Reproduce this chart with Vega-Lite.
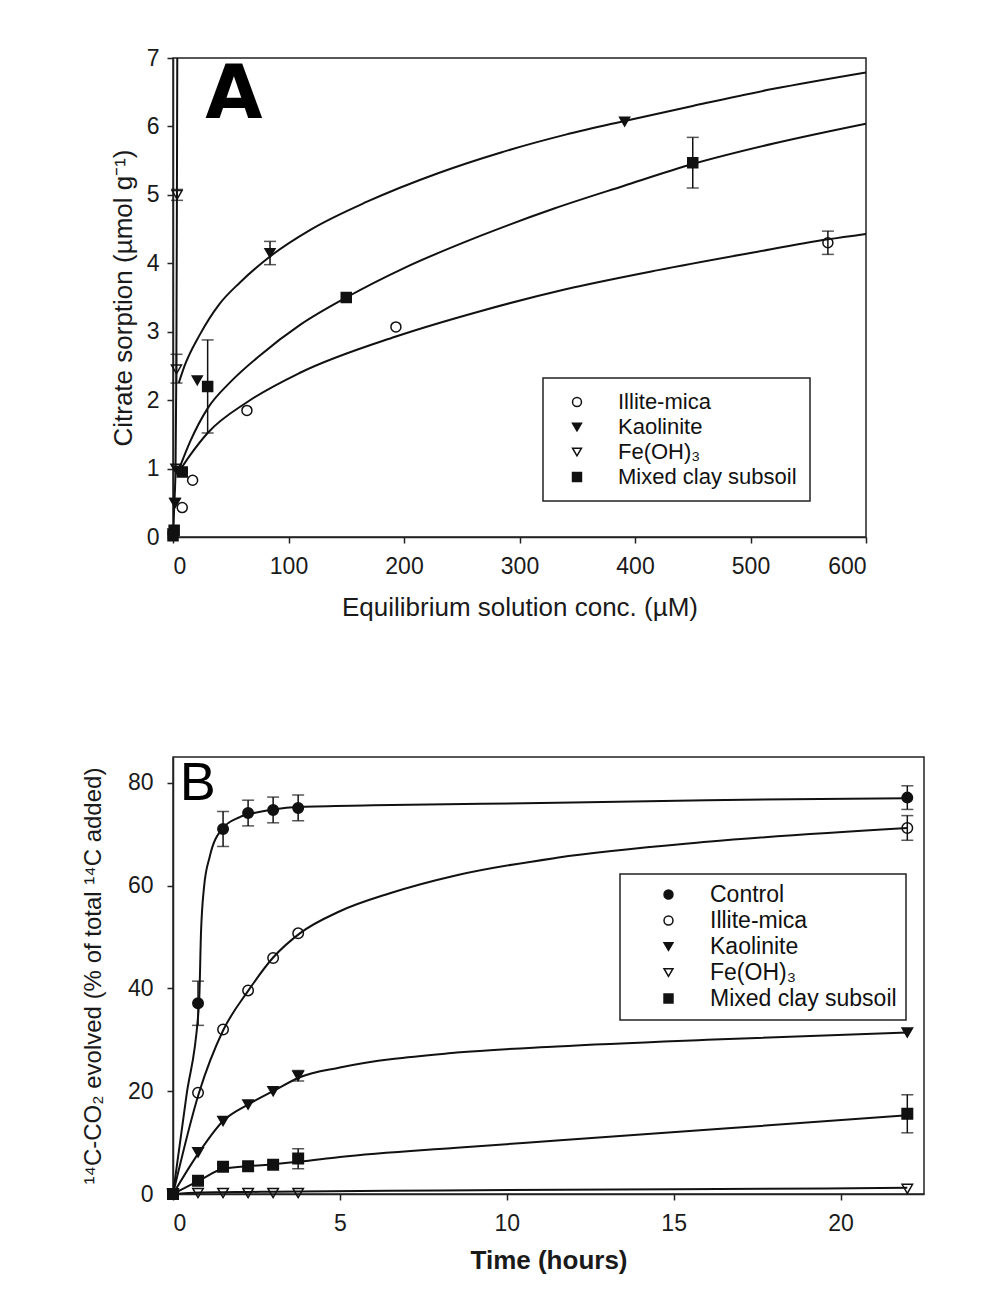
{
  "$schema": "https://vega.github.io/schema/vega-lite/v6.json",
  "background": "white",
  "padding": {"left": 80, "top": 46, "right": 5, "bottom": 5},
  "spacing": 134,
  "datasets": {
    "a_pts": [
      {"mineral": "Illite-mica", "x": 0, "y": 0.05},
      {"mineral": "Illite-mica", "x": 8, "y": 0.43},
      {"mineral": "Illite-mica", "x": 17, "y": 0.83},
      {"mineral": "Illite-mica", "x": 64, "y": 1.85},
      {"mineral": "Illite-mica", "x": 193, "y": 3.07},
      {"mineral": "Illite-mica", "x": 567, "y": 4.3, "lo": 4.13, "hi": 4.47},
      {"mineral": "Kaolinite", "x": 0, "y": 0.05},
      {"mineral": "Kaolinite", "x": 2, "y": 0.5},
      {"mineral": "Kaolinite", "x": 4, "y": 0.97},
      {"mineral": "Kaolinite", "x": 21, "y": 2.29},
      {"mineral": "Kaolinite", "x": 84, "y": 4.15, "lo": 3.98, "hi": 4.32},
      {"mineral": "Kaolinite", "x": 391, "y": 6.07},
      {"mineral": "Fe(OH)₃", "x": 0.5, "y": 0.05},
      {"mineral": "Fe(OH)₃", "x": 1.5, "y": 0.5},
      {"mineral": "Fe(OH)₃", "x": 2.5, "y": 1.0},
      {"mineral": "Fe(OH)₃", "x": 3, "y": 2.45, "lo": 2.25, "hi": 2.67},
      {"mineral": "Fe(OH)₃", "x": 3.5, "y": 5.0, "lo": 4.92, "hi": 5.08},
      {"mineral": "Mixed clay subsoil", "x": 0, "y": 0.02},
      {"mineral": "Mixed clay subsoil", "x": 1, "y": 0.1},
      {"mineral": "Mixed clay subsoil", "x": 8, "y": 0.95},
      {"mineral": "Mixed clay subsoil", "x": 30, "y": 2.2, "lo": 1.52, "hi": 2.88},
      {"mineral": "Mixed clay subsoil", "x": 150, "y": 3.5},
      {"mineral": "Mixed clay subsoil", "x": 450, "y": 5.47, "lo": 5.1, "hi": 5.84}
    ],
    "a_curves": [
      {"mineral": "Kaolinite", "x": 5, "y": 2.25},
      {"mineral": "Kaolinite", "x": 10, "y": 2.5},
      {"mineral": "Kaolinite", "x": 23, "y": 2.95},
      {"mineral": "Kaolinite", "x": 40, "y": 3.4},
      {"mineral": "Kaolinite", "x": 58, "y": 3.72},
      {"mineral": "Kaolinite", "x": 84, "y": 4.1},
      {"mineral": "Kaolinite", "x": 120, "y": 4.5},
      {"mineral": "Kaolinite", "x": 168, "y": 4.9},
      {"mineral": "Kaolinite", "x": 230, "y": 5.32},
      {"mineral": "Kaolinite", "x": 284, "y": 5.62},
      {"mineral": "Kaolinite", "x": 340, "y": 5.88},
      {"mineral": "Kaolinite", "x": 391, "y": 6.08},
      {"mineral": "Kaolinite", "x": 450, "y": 6.3},
      {"mineral": "Kaolinite", "x": 520, "y": 6.55},
      {"mineral": "Kaolinite", "x": 600, "y": 6.79},
      {"mineral": "Mixed clay subsoil", "x": 5, "y": 0.98},
      {"mineral": "Mixed clay subsoil", "x": 15, "y": 1.4},
      {"mineral": "Mixed clay subsoil", "x": 30, "y": 1.88},
      {"mineral": "Mixed clay subsoil", "x": 50, "y": 2.27},
      {"mineral": "Mixed clay subsoil", "x": 75, "y": 2.65},
      {"mineral": "Mixed clay subsoil", "x": 110, "y": 3.1},
      {"mineral": "Mixed clay subsoil", "x": 150, "y": 3.5},
      {"mineral": "Mixed clay subsoil", "x": 200, "y": 3.93},
      {"mineral": "Mixed clay subsoil", "x": 266, "y": 4.4},
      {"mineral": "Mixed clay subsoil", "x": 330, "y": 4.8},
      {"mineral": "Mixed clay subsoil", "x": 390, "y": 5.13},
      {"mineral": "Mixed clay subsoil", "x": 450, "y": 5.45},
      {"mineral": "Mixed clay subsoil", "x": 520, "y": 5.75},
      {"mineral": "Mixed clay subsoil", "x": 600, "y": 6.04},
      {"mineral": "Illite-mica", "x": 5, "y": 0.95},
      {"mineral": "Illite-mica", "x": 15, "y": 1.2},
      {"mineral": "Illite-mica", "x": 30, "y": 1.52},
      {"mineral": "Illite-mica", "x": 65, "y": 1.98},
      {"mineral": "Illite-mica", "x": 110, "y": 2.4},
      {"mineral": "Illite-mica", "x": 193, "y": 2.93},
      {"mineral": "Illite-mica", "x": 266, "y": 3.3},
      {"mineral": "Illite-mica", "x": 340, "y": 3.62},
      {"mineral": "Illite-mica", "x": 420, "y": 3.9},
      {"mineral": "Illite-mica", "x": 500, "y": 4.15},
      {"mineral": "Illite-mica", "x": 567, "y": 4.35},
      {"mineral": "Illite-mica", "x": 600, "y": 4.43},
      {"mineral": "Fe(OH)₃", "x": 0, "y": 0},
      {"mineral": "Fe(OH)₃", "x": 1.2, "y": 0.5},
      {"mineral": "Fe(OH)₃", "x": 2.2, "y": 1.0},
      {"mineral": "Fe(OH)₃", "x": 2.9, "y": 2.45},
      {"mineral": "Fe(OH)₃", "x": 3.4, "y": 5.0},
      {"mineral": "Fe(OH)₃", "x": 3.7, "y": 7.0}
    ],
    "b_pts": [
      {"mineral": "Control", "x": 0, "y": 0},
      {"mineral": "Control", "x": 0.75, "y": 37.1, "lo": 32.8, "hi": 41.4},
      {"mineral": "Control", "x": 1.5, "y": 71.0, "lo": 67.6, "hi": 74.4},
      {"mineral": "Control", "x": 2.25, "y": 74.1, "lo": 71.6, "hi": 76.6},
      {"mineral": "Control", "x": 3.0, "y": 74.7, "lo": 72.2, "hi": 77.2},
      {"mineral": "Control", "x": 3.75, "y": 75.1, "lo": 72.6, "hi": 77.6},
      {"mineral": "Control", "x": 22, "y": 77.1, "lo": 74.8, "hi": 79.4},
      {"mineral": "Illite-mica", "x": 0, "y": 0},
      {"mineral": "Illite-mica", "x": 0.75, "y": 19.7},
      {"mineral": "Illite-mica", "x": 1.5, "y": 32.0},
      {"mineral": "Illite-mica", "x": 2.25, "y": 39.6},
      {"mineral": "Illite-mica", "x": 3.0, "y": 45.9},
      {"mineral": "Illite-mica", "x": 3.75, "y": 50.7},
      {"mineral": "Illite-mica", "x": 22, "y": 71.2, "lo": 68.8, "hi": 73.6},
      {"mineral": "Kaolinite", "x": 0, "y": 0},
      {"mineral": "Kaolinite", "x": 0.75, "y": 8.1},
      {"mineral": "Kaolinite", "x": 1.5, "y": 14.2},
      {"mineral": "Kaolinite", "x": 2.25, "y": 17.4},
      {"mineral": "Kaolinite", "x": 3.0, "y": 20.0},
      {"mineral": "Kaolinite", "x": 3.75, "y": 23.0, "lo": 22.0, "hi": 24.0},
      {"mineral": "Kaolinite", "x": 22, "y": 31.4},
      {"mineral": "Fe(OH)₃", "x": 0, "y": 0},
      {"mineral": "Fe(OH)₃", "x": 0.75, "y": 0.2},
      {"mineral": "Fe(OH)₃", "x": 1.5, "y": 0.2},
      {"mineral": "Fe(OH)₃", "x": 2.25, "y": 0.2},
      {"mineral": "Fe(OH)₃", "x": 3.0, "y": 0.2},
      {"mineral": "Fe(OH)₃", "x": 3.75, "y": 0.2},
      {"mineral": "Fe(OH)₃", "x": 22, "y": 1.0},
      {"mineral": "Mixed clay subsoil", "x": 0, "y": 0},
      {"mineral": "Mixed clay subsoil", "x": 0.75, "y": 2.6},
      {"mineral": "Mixed clay subsoil", "x": 1.5, "y": 5.3},
      {"mineral": "Mixed clay subsoil", "x": 2.25, "y": 5.4},
      {"mineral": "Mixed clay subsoil", "x": 3.0, "y": 5.7},
      {"mineral": "Mixed clay subsoil", "x": 3.75, "y": 6.9, "lo": 4.9, "hi": 8.8},
      {"mineral": "Mixed clay subsoil", "x": 22, "y": 15.6, "lo": 11.9, "hi": 19.3}
    ],
    "b_curves": [
      {"mineral": "Control", "x": 0, "y": 0},
      {"mineral": "Control", "x": 0.4, "y": 19},
      {"mineral": "Control", "x": 0.78, "y": 37},
      {"mineral": "Control", "x": 0.84, "y": 51},
      {"mineral": "Control", "x": 0.93, "y": 59.7},
      {"mineral": "Control", "x": 1.1, "y": 65.6},
      {"mineral": "Control", "x": 1.47, "y": 71},
      {"mineral": "Control", "x": 2.0, "y": 73.3},
      {"mineral": "Control", "x": 2.5, "y": 74.2},
      {"mineral": "Control", "x": 3.0, "y": 74.8},
      {"mineral": "Control", "x": 3.8, "y": 75.3},
      {"mineral": "Control", "x": 6, "y": 75.6},
      {"mineral": "Control", "x": 11.5, "y": 76.1},
      {"mineral": "Control", "x": 16, "y": 76.6},
      {"mineral": "Control", "x": 22, "y": 77.0},
      {"mineral": "Illite-mica", "x": 0, "y": 0},
      {"mineral": "Illite-mica", "x": 0.78, "y": 19.7},
      {"mineral": "Illite-mica", "x": 1.5, "y": 31.8},
      {"mineral": "Illite-mica", "x": 2.25, "y": 39.5},
      {"mineral": "Illite-mica", "x": 3.0, "y": 46},
      {"mineral": "Illite-mica", "x": 3.8, "y": 50.7},
      {"mineral": "Illite-mica", "x": 5, "y": 55},
      {"mineral": "Illite-mica", "x": 6.5, "y": 58.5},
      {"mineral": "Illite-mica", "x": 8.5, "y": 62},
      {"mineral": "Illite-mica", "x": 11.5, "y": 65.4},
      {"mineral": "Illite-mica", "x": 16, "y": 68.5},
      {"mineral": "Illite-mica", "x": 22, "y": 71.2},
      {"mineral": "Kaolinite", "x": 0, "y": 0},
      {"mineral": "Kaolinite", "x": 0.78, "y": 8.1},
      {"mineral": "Kaolinite", "x": 1.5, "y": 14.2},
      {"mineral": "Kaolinite", "x": 2.25, "y": 17.4},
      {"mineral": "Kaolinite", "x": 3.0, "y": 20},
      {"mineral": "Kaolinite", "x": 3.8, "y": 22.7},
      {"mineral": "Kaolinite", "x": 5, "y": 24.6},
      {"mineral": "Kaolinite", "x": 8.5, "y": 27.5},
      {"mineral": "Kaolinite", "x": 11.5, "y": 28.7},
      {"mineral": "Kaolinite", "x": 16, "y": 30},
      {"mineral": "Kaolinite", "x": 22, "y": 31.4},
      {"mineral": "Mixed clay subsoil", "x": 0, "y": 0},
      {"mineral": "Mixed clay subsoil", "x": 0.78, "y": 2.6},
      {"mineral": "Mixed clay subsoil", "x": 1.5, "y": 4.9},
      {"mineral": "Mixed clay subsoil", "x": 2.25, "y": 5.4},
      {"mineral": "Mixed clay subsoil", "x": 3.0, "y": 5.8},
      {"mineral": "Mixed clay subsoil", "x": 3.8, "y": 6.3},
      {"mineral": "Mixed clay subsoil", "x": 5, "y": 7.2},
      {"mineral": "Mixed clay subsoil", "x": 8.5, "y": 9.0},
      {"mineral": "Mixed clay subsoil", "x": 11.5, "y": 10.4},
      {"mineral": "Mixed clay subsoil", "x": 16, "y": 12.5},
      {"mineral": "Mixed clay subsoil", "x": 22, "y": 15.3},
      {"mineral": "Fe(OH)₃", "x": 0, "y": 0},
      {"mineral": "Fe(OH)₃", "x": 0.78, "y": 0.3},
      {"mineral": "Fe(OH)₃", "x": 1.5, "y": 0.35},
      {"mineral": "Fe(OH)₃", "x": 2.25, "y": 0.4},
      {"mineral": "Fe(OH)₃", "x": 3.0, "y": 0.45},
      {"mineral": "Fe(OH)₃", "x": 3.8, "y": 0.5},
      {"mineral": "Fe(OH)₃", "x": 8, "y": 0.7},
      {"mineral": "Fe(OH)₃", "x": 15, "y": 0.9},
      {"mineral": "Fe(OH)₃", "x": 22, "y": 1.2}
    ]
  },
  "vconcat": [
    {
      "width": 693,
      "height": 479,
      "encoding": {
        "x": {"field": "x", "type": "quantitative", "scale": {"domain": [0, 600], "nice": false},
          "axis": {"title": "Equilibrium solution conc. (µM)", "values": [0, 100, 200, 300, 400, 500, 600], "labelFontSize": 23, "titleFontSize": 26, "labelPadding": 12, "titlePadding": 16}},
        "y": {"field": "y", "type": "quantitative", "scale": {"domain": [0, 7], "nice": false},
          "axis": {"title": "Citrate sorption (µmol g⁻¹)", "values": [0, 1, 2, 3, 4, 5, 6, 7], "labelFontSize": 23, "titleFontSize": 26, "labelPadding": 8, "titlePadding": 10}}
      },
      "layer": [
        {
          "data": {"name": "a_curves"},
          "mark": {"type": "line", "interpolate": "monotone", "color": "#111", "strokeWidth": 2, "clip": true},
          "encoding": {"detail": {"field": "mineral", "type": "nominal"}}
        },
        {
          "data": {"name": "a_pts"},
          "transform": [{"filter": "datum.lo != null"}],
          "mark": {"type": "rule", "color": "#111", "strokeWidth": 1.5},
          "encoding": {"y": {"field": "lo", "type": "quantitative"}, "y2": {"field": "hi"}}
        },
        {
          "data": {"name": "a_pts"},
          "transform": [{"filter": "datum.lo != null"}],
          "mark": {"type": "tick", "orient": "horizontal", "color": "#111", "size": 12, "thickness": 1.5},
          "encoding": {"y": {"field": "hi", "type": "quantitative"}}
        },
        {
          "data": {"name": "a_pts"},
          "transform": [{"filter": "datum.lo != null"}],
          "mark": {"type": "tick", "orient": "horizontal", "color": "#111", "size": 12, "thickness": 1.5},
          "encoding": {"y": {"field": "lo", "type": "quantitative"}}
        },
        {
          "data": {"name": "a_pts"},
          "mark": {"type": "point", "filled": true, "strokeWidth": 1.5, "size": 100, "opacity": 1, "fillOpacity": 1, "strokeOpacity": 1},
          "encoding": {
            "shape": {"field": "mineral", "type": "nominal",
              "scale": {"domain": ["Illite-mica", "Kaolinite", "Fe(OH)₃", "Mixed clay subsoil"], "range": ["circle", "triangle-down", "triangle-down", "square"]},
              "legend": {"title": null, "orient": "none", "legendX": 370, "legendY": 320, "labelFontSize": 22, "labelLimit": 400, "padding": 13, "symbolOffset": 10, "labelOffset": 30, "rowPadding": 3, "symbolSize": 80, "symbolStrokeWidth": 1.5}},
            "fill": {"field": "mineral", "type": "nominal",
              "scale": {"domain": ["Illite-mica", "Kaolinite", "Fe(OH)₃", "Mixed clay subsoil"], "range": ["transparent", "#111", "transparent", "#111"]},
              "legend": {"title": null, "orient": "none", "legendX": 370, "legendY": 320, "labelFontSize": 22, "labelLimit": 400, "padding": 13, "symbolOffset": 10, "labelOffset": 30, "rowPadding": 3, "symbolSize": 80, "symbolStrokeWidth": 1.5}},
            "stroke": {"field": "mineral", "type": "nominal",
              "scale": {"domain": ["Illite-mica", "Kaolinite", "Fe(OH)₃", "Mixed clay subsoil"], "range": ["#111", "#111", "#111", "#111"]},
              "legend": {"title": null, "orient": "none", "legendX": 370, "legendY": 320, "labelFontSize": 22, "labelLimit": 400, "padding": 13, "symbolOffset": 10, "labelOffset": 30, "rowPadding": 3, "symbolSize": 80, "symbolStrokeWidth": 1.5}}
          }
        },
        {
          "data": {"values": [{"label": "A", "x": 28, "y": 6.12}]},
          "mark": {"type": "text", "align": "left", "baseline": "alphabetic", "font": "DejaVu Sans", "fontWeight": "bold", "fontSize": 74, "color": "#000"},
          "encoding": {"text": {"field": "label"}}
        }
      ]
    },
    {
      "width": 751,
      "height": 437,
      "encoding": {
        "x": {"field": "x", "type": "quantitative", "scale": {"domain": [0, 22.5], "nice": false},
          "axis": {"title": "Time (hours)", "values": [0, 5, 10, 15, 20], "labelFontSize": 23, "titleFontSize": 26, "titleFontWeight": "bold", "labelPadding": 12, "titlePadding": 12}},
        "y": {"field": "y", "type": "quantitative", "scale": {"domain": [0, 85], "nice": false},
          "axis": {"title": "¹⁴C-CO₂ evolved (% of total ¹⁴C added)", "values": [0, 20, 40, 60, 80], "labelFontSize": 23, "titleFontSize": 24, "labelPadding": 14, "titlePadding": 22}}
      },
      "layer": [
        {
          "data": {"name": "b_curves"},
          "mark": {"type": "line", "interpolate": "monotone", "color": "#111", "strokeWidth": 2, "clip": true},
          "encoding": {"detail": {"field": "mineral", "type": "nominal"}}
        },
        {
          "data": {"name": "b_pts"},
          "transform": [{"filter": "datum.lo != null"}],
          "mark": {"type": "rule", "color": "#111", "strokeWidth": 1.5},
          "encoding": {"y": {"field": "lo", "type": "quantitative"}, "y2": {"field": "hi"}}
        },
        {
          "data": {"name": "b_pts"},
          "transform": [{"filter": "datum.lo != null"}],
          "mark": {"type": "tick", "orient": "horizontal", "color": "#111", "size": 12, "thickness": 1.5},
          "encoding": {"y": {"field": "hi", "type": "quantitative"}}
        },
        {
          "data": {"name": "b_pts"},
          "transform": [{"filter": "datum.lo != null"}],
          "mark": {"type": "tick", "orient": "horizontal", "color": "#111", "size": 12, "thickness": 1.5},
          "encoding": {"y": {"field": "lo", "type": "quantitative"}}
        },
        {
          "data": {"name": "b_pts"},
          "mark": {"type": "point", "filled": true, "strokeWidth": 1.5, "size": 110, "opacity": 1, "fillOpacity": 1, "strokeOpacity": 1},
          "encoding": {
            "shape": {"field": "mineral", "type": "nominal",
              "scale": {"domain": ["Control", "Illite-mica", "Kaolinite", "Fe(OH)₃", "Mixed clay subsoil"], "range": ["circle", "circle", "triangle-down", "triangle-down", "square"]},
              "legend": {"title": null, "orient": "none", "legendX": 447, "legendY": 117, "labelFontSize": 23, "labelLimit": 400, "padding": 9, "symbolOffset": 28, "labelOffset": 30, "rowPadding": 2, "symbolSize": 80, "symbolStrokeWidth": 1.5}},
            "fill": {"field": "mineral", "type": "nominal",
              "scale": {"domain": ["Control", "Illite-mica", "Kaolinite", "Fe(OH)₃", "Mixed clay subsoil"], "range": ["#111", "transparent", "#111", "transparent", "#111"]},
              "legend": {"title": null, "orient": "none", "legendX": 447, "legendY": 117, "labelFontSize": 23, "labelLimit": 400, "padding": 9, "symbolOffset": 28, "labelOffset": 30, "rowPadding": 2, "symbolSize": 80, "symbolStrokeWidth": 1.5}},
            "stroke": {"field": "mineral", "type": "nominal",
              "scale": {"domain": ["Control", "Illite-mica", "Kaolinite", "Fe(OH)₃", "Mixed clay subsoil"], "range": ["#111", "#111", "#111", "#111", "#111"]},
              "legend": {"title": null, "orient": "none", "legendX": 447, "legendY": 117, "labelFontSize": 23, "labelLimit": 400, "padding": 9, "symbolOffset": 28, "labelOffset": 30, "rowPadding": 2, "symbolSize": 80, "symbolStrokeWidth": 1.5}}
          }
        },
        {
          "data": {"values": [{"label": "B", "x": 0.2, "y": 76.7}]},
          "mark": {"type": "text", "align": "left", "baseline": "alphabetic", "font": "Liberation Sans", "fontWeight": "normal", "fontSize": 54, "color": "#000"},
          "encoding": {"text": {"field": "label"}}
        }
      ]
    }
  ],
  "resolve": {
    "scale": {"shape": "independent", "fill": "independent", "stroke": "independent", "x": "independent", "y": "independent"},
    "legend": {"shape": "independent", "fill": "independent", "stroke": "independent"}
  },
  "config": {
    "font": "Liberation Sans",
    "view": {"stroke": "#222", "strokeWidth": 1.5},
    "axis": {"grid": false, "domainColor": "#222", "tickColor": "#222", "labelColor": "#1a1a1a", "titleColor": "#1a1a1a", "labelFont": "Liberation Sans", "titleFont": "Liberation Sans", "titleFontWeight": "normal", "tickSize": 6, "domainWidth": 1.5, "tickWidth": 1.5},
    "legend": {"strokeColor": "#222", "strokeWidth": 1.5, "fillColor": "white", "labelColor": "#111", "labelFont": "Liberation Sans", "symbolSize": 80, "symbolStrokeWidth": 1.5}
  }
}
